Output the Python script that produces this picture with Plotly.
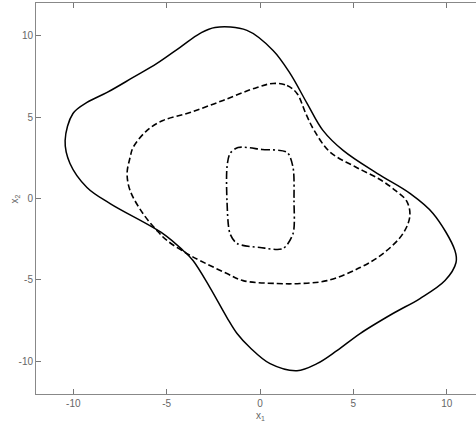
import plotly.graph_objects as go

# Outer (solid) trajectory
outer_x = [-2.41, -0.70, 0.70, 1.61, 2.52, 3.37, 4.45, 6.27, 8.03, 9.27, 10.44, 10.50, 9.91, 8.57, 7.12,
           5.36, 4.12, 3.05, 1.98, 0.54, -0.54, -1.23, -1.77, -2.68, -3.59, -4.12, -5.20, -8.03, -9.27,
           -10.18, -10.44, -10.02, -9.27, -8.19, -6.80, -5.52, -4.28, -3.21, -2.41]
outer_y = [10.50, 10.32, 9.09, 7.68, 5.84, 4.18, 2.95, 1.54, 0.31, -0.92, -3.19, -3.93, -5.04, -6.14, -7.06,
           -8.29, -9.34, -10.14, -10.57, -10.14, -9.15, -8.29, -7.31, -5.47, -3.81, -3.19, -2.15, -0.31, 0.68,
           2.15, 3.56, 5.22, 5.90, 6.51, 7.43, 8.29, 9.28, 10.14, 10.50]

# Middle (dashed) trajectory
mid_x = [0.70, 1.45, 1.98, 2.45, 2.90, 3.75, 5.10, 6.45, 7.30, 7.85, 8.03, 7.66, 6.59, 5.36, 3.59, 2.14,
         0.91, -0.91, -1.77, -3.21, -3.91, -4.98, -5.52, -6.27, -6.96, -7.12, -6.96, -6.80, -6.05,
         -5.20, -3.75, -1.98, -0.16, 0.70]
mid_y = [7.06, 6.94, 6.45, 5.22, 4.18, 2.85, 1.95, 1.15, 0.45, -0.15, -1.04, -2.15, -3.38, -4.24, -5.04, -5.22,
         -5.22, -5.04, -4.61, -3.81, -3.38, -2.58, -1.97, -0.92, 0.49, 1.54, 2.52, 3.13, 4.18,
         4.79, 5.28, 6.02, 6.82, 7.06]

# Inner (dash-dot) trajectory
inner_x = [-1.18, 0.11, 1.45, 1.77, 1.82, 1.77, 1.23, 0.00, -1.23, -1.61, -1.77, -1.77, -1.61, -1.18]
inner_y = [3.13, 3.01, 2.83, 1.90, -0.12, -2.15, -3.07, -3.01, -2.76, -2.15, -0.12, 1.90, 2.76, 3.13]

x_ticks = [-10, -5, 0, 5, 10]
x_ticktext = ["-10", "-5", "0", "5", "10"]
y_ticks = [-10, -5, 0, 5, 10]
y_ticktext = ["-10", "-5", "0", "5", "10"]

fig = go.Figure()
fig.add_trace(go.Scatter(x=outer_x, y=outer_y, mode="lines", hoverinfo="skip",
                         line=dict(color="black", width=1.5, shape="spline", smoothing=1.0)))
fig.add_trace(go.Scatter(x=mid_x, y=mid_y, mode="lines", hoverinfo="skip",
                         line=dict(color="black", width=1.6, shape="spline", smoothing=1.0, dash="6px,3px")))
fig.add_trace(go.Scatter(x=inner_x, y=inner_y, mode="lines", hoverinfo="skip",
                         line=dict(color="black", width=1.6, shape="spline", smoothing=0.8,
                                   dash="8px,3px,2px,3px")))

font_family = "Liberation Sans Narrow, Arial Narrow, Liberation Sans"
tickfont = dict(family=font_family, size=10, color="#666666")
fig.update_layout(
    width=476, height=425,
    margin=dict(l=36, r=0, t=3, b=31),
    paper_bgcolor="white", plot_bgcolor="white",
    showlegend=False,
    xaxis=dict(range=[-12, 11.57], tickvals=x_ticks, ticktext=x_ticktext, ticks="inside", ticklen=5,
               tickcolor="#777777", showline=True, linecolor="#888888", linewidth=1, mirror="ticks",
               showgrid=False, zeroline=False, tickfont=tickfont),
    yaxis=dict(range=[-12, 12], tickvals=y_ticks, ticktext=y_ticktext, ticks="inside", ticklen=5,
               tickcolor="#777777", showline=True, linecolor="#888888", linewidth=1,
               showgrid=False, zeroline=False, tickfont=tickfont),
    annotations=[
        dict(text="x<sub>1</sub>", xref="x", yref="paper", x=0, y=-0.056, xanchor="center", yanchor="middle",
             showarrow=False, font=dict(family=font_family, size=10, color="#666666")),
        dict(text="x<sub>2</sub>", xref="paper", yref="y", x=-0.048, y=0, xanchor="center", yanchor="middle",
             textangle=-90, showarrow=False, font=dict(family=font_family, size=10, color="#666666")),
    ],
)

fig.write_html("out.html", config={"displayModeBar": False},
               post_script="document.body.style.margin='0';document.body.style.padding='0';")
